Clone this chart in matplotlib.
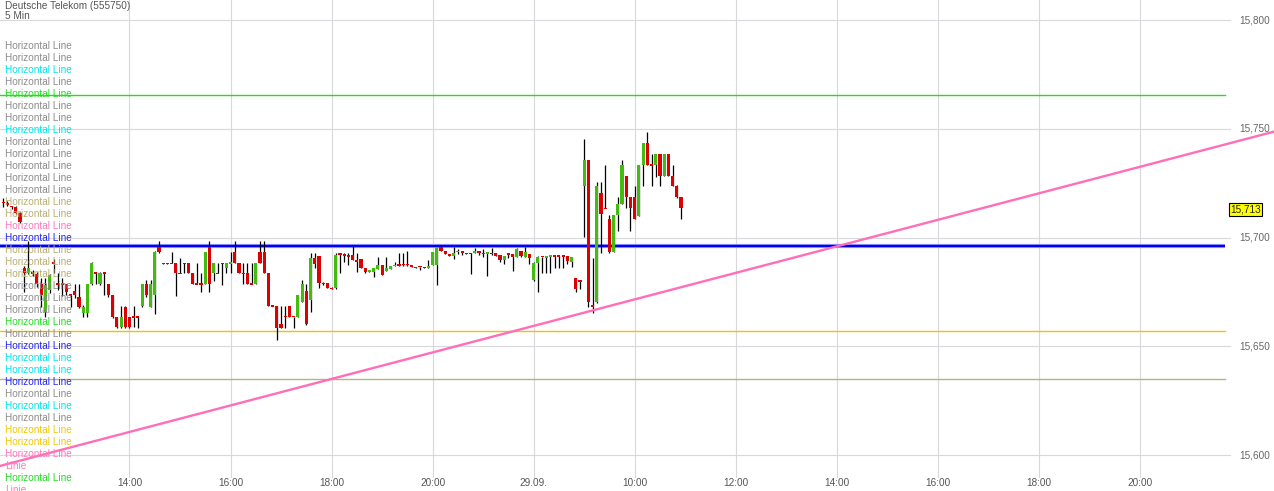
import numpy as np
import matplotlib
matplotlib.use("Agg")
import matplotlib.pyplot as plt
import matplotlib.transforms as mtransforms

# ---------------- data ----------------
title = "Deutsche Telekom (555750)"
subtitle = "5 Min"
first_bar = -30  # bar index of first candle (14:00 on day 1 == index 0)

opens = [15.7160, 15.7160, 15.7142, 15.7142, 15.7113, 15.6860, 15.6837, 15.6838, 15.6832, 15.6786,
         15.6659, 15.6759, 15.6883, 15.6786, 15.6786, 15.6786, 15.6736, 15.6754, 15.6727, 15.6653,
         15.6653, 15.6786, 15.6838, 15.6786, 15.6838, 15.6786, 15.6736, 15.6634, 15.6589, 15.6681,
         15.6634, 15.6634, 15.6634, 15.6685, 15.6786, 15.6681, 15.6736, 15.6958, 15.6881, 15.6881,
         15.6881, 15.6881, 15.6835, 15.6881, 15.6881, 15.6835, 15.6786, 15.6786, 15.6786, 15.6958,
         15.6835, 15.6835, 15.6881, 15.6858, 15.6881, 15.6932, 15.6881, 15.6835, 15.6835, 15.6786,
         15.6786, 15.6932, 15.6932, 15.6835, 15.6685, 15.6685, 15.6602, 15.6636, 15.6685, 15.6636,
         15.6636, 15.6705, 15.6754, 15.6713, 15.6904, 15.6915, 15.6789, 15.6789, 15.6766, 15.6766,
         15.6923, 15.6920, 15.6920, 15.6920, 15.6892, 15.6901, 15.6858, 15.6841, 15.6843, 15.6855,
         15.6874, 15.6847, 15.6855, 15.6870, 15.6874, 15.6877, 15.6877, 15.6870, 15.6866, 15.6866,
         15.6866, 15.6858, 15.6874, 15.6874, 15.6958, 15.6938, 15.6923, 15.6915, 15.6935, 15.6938,
         15.6927, 15.6927, 15.6927, 15.6938, 15.6927, 15.6927, 15.6927, 15.6927, 15.6920, 15.6897,
         15.6923, 15.6923, 15.6912, 15.6938, 15.6912, 15.6923, 15.6805, 15.6884, 15.6912, 15.6909,
         15.6915, 15.6915, 15.6915, 15.6915, 15.6915, 15.6886, 15.6815, 15.6801, 15.7238, 15.7356,
         15.6685, 15.6705, 15.7203, 15.7134, 15.7085, 15.6935, 15.7103, 15.7154, 15.7283, 15.7185,
         15.7185, 15.7100, 15.7333, 15.7433, 15.7333, 15.7333, 15.7384, 15.7283, 15.7384, 15.7283,
         15.7238, 15.7185]

highs = [15.7182, 15.7168, 15.7145, 15.7145, 15.7117, 15.6869, 15.6984, 15.6851, 15.6841, 15.6814,
         15.6814, 15.6832, 15.6901, 15.6837, 15.6814, 15.6786, 15.6736, 15.6786, 15.6786, 15.6690,
         15.6786, 15.6887, 15.6841, 15.6841, 15.6841, 15.6786, 15.6736, 15.6634, 15.6685, 15.6685,
         15.6634, 15.6685, 15.6634, 15.6786, 15.6805, 15.6805, 15.6938, 15.6985, 15.6883, 15.6883,
         15.6935, 15.6883, 15.6906, 15.6883, 15.6881, 15.6835, 15.6883, 15.6837, 15.6932, 15.6985,
         15.6883, 15.6883, 15.6883, 15.6883, 15.6933, 15.6985, 15.6881, 15.6883, 15.6883, 15.6883,
         15.6881, 15.6985, 15.6985, 15.6835, 15.6685, 15.6685, 15.6685, 15.6685, 15.6685, 15.6636,
         15.6736, 15.6805, 15.6786, 15.6929, 15.6929, 15.6915, 15.6795, 15.6789, 15.6772, 15.6929,
         15.6923, 15.6929, 15.6929, 15.6966, 15.6929, 15.6901, 15.6858, 15.6851, 15.6858, 15.6912,
         15.6874, 15.6912, 15.6869, 15.6889, 15.6929, 15.6929, 15.6938, 15.6870, 15.6866, 15.6866,
         15.6866, 15.6897, 15.6935, 15.6958, 15.6966, 15.6938, 15.6923, 15.6958, 15.6947, 15.6938,
         15.6929, 15.6927, 15.6953, 15.6938, 15.6947, 15.6929, 15.6953, 15.6927, 15.6920, 15.6915,
         15.6923, 15.6923, 15.6953, 15.6938, 15.6958, 15.6923, 15.6886, 15.6915, 15.6912, 15.6911,
         15.6917, 15.6915, 15.6915, 15.6915, 15.6915, 15.6912, 15.6815, 15.6805, 15.7453, 15.7356,
         15.6907, 15.7257, 15.7255, 15.7333, 15.7103, 15.7103, 15.7185, 15.7356, 15.7283, 15.7185,
         15.7237, 15.7333, 15.7433, 15.7484, 15.7384, 15.7384, 15.7384, 15.7384, 15.7384, 15.7333,
         15.7241, 15.7186]

lows = [15.7140, 15.7145, 15.7131, 15.7108, 15.7067, 15.6749, 15.6832, 15.6823, 15.6772, 15.6681,
        15.6634, 15.6745, 15.6837, 15.6759, 15.6731, 15.6736, 15.6681, 15.6722, 15.6676, 15.6634,
        15.6634, 15.6782, 15.6786, 15.6782, 15.6736, 15.6727, 15.6630, 15.6584, 15.6584, 15.6584,
        15.6584, 15.6589, 15.6584, 15.6681, 15.6727, 15.6681, 15.6648, 15.6929, 15.6878, 15.6878,
        15.6881, 15.6731, 15.6835, 15.6837, 15.6835, 15.6786, 15.6786, 15.6749, 15.6786, 15.6751,
        15.6800, 15.6835, 15.6782, 15.6837, 15.6837, 15.6881, 15.6835, 15.6786, 15.6786, 15.6786,
        15.6786, 15.6881, 15.6835, 15.6685, 15.6685, 15.6529, 15.6584, 15.6584, 15.6634, 15.6584,
        15.6634, 15.6703, 15.6598, 15.6659, 15.6860, 15.6768, 15.6782, 15.6766, 15.6763, 15.6763,
        15.6837, 15.6887, 15.6874, 15.6897, 15.6841, 15.6858, 15.6837, 15.6841, 15.6818, 15.6855,
        15.6828, 15.6846, 15.6855, 15.6869, 15.6869, 15.6869, 15.6869, 15.6866, 15.6858, 15.6851,
        15.6858, 15.6858, 15.6874, 15.6782, 15.6938, 15.6923, 15.6916, 15.6900, 15.6923, 15.6920,
        15.6923, 15.6832, 15.6927, 15.6920, 15.6912, 15.6824, 15.6920, 15.6915, 15.6889, 15.6877,
        15.6906, 15.6847, 15.6910, 15.6909, 15.6910, 15.6877, 15.6801, 15.6751, 15.6838, 15.6838,
        15.6838, 15.6861, 15.6861, 15.6861, 15.6878, 15.6866, 15.6751, 15.6763, 15.7004, 15.6682,
        15.6652, 15.6699, 15.6930, 15.7134, 15.6930, 15.6935, 15.7031, 15.7154, 15.7134, 15.7031,
        15.7085, 15.7100, 15.7238, 15.7333, 15.7238, 15.7280, 15.7238, 15.7283, 15.7283, 15.7237,
        15.7182, 15.7084]

closes = [15.7160, 15.7149, 15.7142, 15.7111, 15.7071, 15.6837, 15.6860, 15.6838, 15.6786, 15.6736,
          15.6782, 15.6828, 15.6883, 15.6786, 15.6786, 15.6749, 15.6736, 15.6736, 15.6681, 15.6681,
          15.6786, 15.6883, 15.6838, 15.6838, 15.6838, 15.6736, 15.6634, 15.6589, 15.6634, 15.6589,
          15.6589, 15.6634, 15.6634, 15.6786, 15.6736, 15.6786, 15.6935, 15.6932, 15.6881, 15.6881,
          15.6881, 15.6835, 15.6835, 15.6881, 15.6835, 15.6786, 15.6786, 15.6786, 15.6932, 15.6786,
          15.6881, 15.6835, 15.6881, 15.6881, 15.6883, 15.6881, 15.6835, 15.6835, 15.6786, 15.6786,
          15.6881, 15.6881, 15.6835, 15.6685, 15.6685, 15.6585, 15.6585, 15.6636, 15.6636, 15.6636,
          15.6736, 15.6786, 15.6601, 15.6904, 15.6877, 15.6789, 15.6789, 15.6766, 15.6766, 15.6920,
          15.6923, 15.6920, 15.6912, 15.6897, 15.6892, 15.6858, 15.6843, 15.6851, 15.6858, 15.6874,
          15.6828, 15.6858, 15.6869, 15.6872, 15.6874, 15.6877, 15.6877, 15.6870, 15.6858, 15.6866,
          15.6858, 15.6869, 15.6932, 15.6958, 15.6938, 15.6923, 15.6916, 15.6930, 15.6937, 15.6927,
          15.6927, 15.6927, 15.6938, 15.6927, 15.6927, 15.6929, 15.6927, 15.6915, 15.6897, 15.6915,
          15.6923, 15.6912, 15.6947, 15.6915, 15.6932, 15.6907, 15.6881, 15.6912, 15.6912, 15.6911,
          15.6917, 15.6915, 15.6915, 15.6915, 15.6893, 15.6912, 15.6763, 15.6801, 15.7356, 15.6705,
          15.6685, 15.7238, 15.7107, 15.7134, 15.6935, 15.7103, 15.7154, 15.7333, 15.7185, 15.7137,
          15.7085, 15.7333, 15.7433, 15.7333, 15.7333, 15.7384, 15.7283, 15.7384, 15.7283, 15.7238,
          15.7185, 15.7134]

tick_positions = [0, 24, 48, 72, 96, 120, 144, 168, 192, 216, 240]
tick_labels = ["14:00", "16:00", "18:00", "20:00", "29.09.", "10:00",
               "12:00", "14:00", "16:00", "18:00", "20:00"]
price_ticks = [15.60, 15.65, 15.70, 15.75, 15.80]
last_price = 15.713

# horizontal lines drawn on chart (level, colour, width px)
hlines_levels = [15.7655, 15.6961, 15.6570, 15.6350]
hlines_colors = ["#22dd22", "#0000ee", "#f2c200", "#b8b478"]
# trend line anchors (bar index, price)
trend_x = [0, 240]
trend_y = [15.6106, 15.7325]

legend_names = ["Horizontal Line"] * 35 + ["Linie", "Horizontal Line", "Linie"]
legend_colors = ["#8c8c8c", "#8c8c8c", "#00e5ee", "#8c8c8c", "#22dd22", "#8c8c8c", "#8c8c8c",
                 "#00e5ee", "#8c8c8c", "#8c8c8c", "#8c8c8c", "#8c8c8c", "#8c8c8c", "#b8b070",
                 "#b8b070", "#ff77bb", "#2626ee", "#b8b070", "#b8b070", "#b8b070", "#8c8c8c",
                 "#8c8c8c", "#8c8c8c", "#22dd22", "#8c8c8c", "#2626ee", "#00e5ee", "#00e5ee",
                 "#2626ee", "#8c8c8c", "#00e5ee", "#8c8c8c", "#f2c800", "#f2c800", "#ff77bb",
                 "#ff77bb", "#22dd22", "#ff77bb"]

# ---------------- figure ----------------
W, H = 1274, 491
fig = plt.figure(figsize=(W / 100, H / 100), dpi=100)
ax = fig.add_axes([0, 0, 1, 1])
ax.set_axis_off()

px_per_bar = 4.21
x0_px = 129.5
px_per_unit = 2175.0
y_top_price = 15.8092
ax.set_xlim(-x0_px / px_per_bar, (W - x0_px) / px_per_bar)
ax.set_ylim(y_top_price - H / px_per_unit, y_top_price)

xl = ax.get_xlim()
grid_right = (1230 - x0_px) / px_per_bar
line_right = (1225 - x0_px) / px_per_bar
grid_bottom = y_top_price - 477 / px_per_unit

FONT = ["Liberation Sans", "DejaVu Sans"]
plt.rcParams["font.family"] = FONT

# grid
for p in price_ticks:
    ax.plot([xl[0], grid_right], [p, p], color="#d9d9dd", lw=0.8, zorder=0)
for t in tick_positions:
    ax.plot([t, t], [grid_bottom, y_top_price], color="#d9d9dd", lw=0.8, zorder=0)

# legend texts
for k, (name, col) in enumerate(zip(legend_names, legend_colors)):
    fig.text(5 / W, 1 - (46 + 12 * k) / H, name, color=col, fontsize=7.2,
             va="center", ha="left", zorder=1)

fig.text(5 / W, 1 - 6 / H, title, color="#555555", fontsize=7.2, va="center", ha="left")
fig.text(5 / W, 1 - 16 / H, subtitle, color="#555555", fontsize=7.2, va="center", ha="left")

# horizontal lines
for lvl, col in zip(hlines_levels, hlines_colors):
    if col == "#0000ee":
        ax.plot([xl[0], line_right], [lvl, lvl], color="#8f8fff", lw=3.0, zorder=2,
                solid_capstyle="butt")
        ax.plot([xl[0], line_right], [lvl, lvl], color=col, lw=1.5, zorder=2,
                solid_capstyle="butt")
    else:
        ax.plot([xl[0], line_right], [lvl, lvl], color=col, lw=1.0, zorder=2)

# candles
o = np.array(opens); h = np.array(highs); l = np.array(lows); c = np.array(closes)
idx = first_bar + np.arange(len(o))
up = c > o
cols = np.where(up, "#44bb11", "#dd0000")
ax.vlines(idx, l, h, color="black", lw=0.9, zorder=3)
bottom = np.minimum(o, c)
height = np.maximum(np.abs(c - o), 0.0007)
bottom = np.where(np.abs(c - o) < 0.0007, (o + c) / 2 - 0.00035, bottom)
ax.bar(idx, height, bottom=bottom, width=0.75, color=cols, edgecolor="none",
       linewidth=0, zorder=4)

# trend line
slope = (trend_y[1] - trend_y[0]) / (trend_x[1] - trend_x[0])
tx = np.array([xl[0], xl[1]])
ty = trend_y[0] + slope * (tx - trend_x[0])
ax.plot(tx, ty, color="#ff6eb8", lw=1.7, zorder=5)

# price axis labels
trans = mtransforms.blended_transform_factory(ax.transAxes, ax.transData)
for p in price_ticks:
    ax.text(1239 / W, p, f"{p:.3f}".replace(".", ","), transform=trans, color="#666666",
            fontsize=7.2, va="center", ha="left")
ax.text(1245.5 / W, last_price, f"{last_price:.3f}".replace(".", ","), transform=trans,
        color="#222222", fontsize=7.2, va="center", ha="center", zorder=6,
        bbox=dict(boxstyle="square,pad=0.15", fc="#ffff00", ec="black", lw=0.8))

# time axis labels
for t, lab in zip(tick_positions, tick_labels):
    ax.text(t, y_top_price - 483 / px_per_unit, lab, color="#555555", fontsize=7.2,
            ha="center", va="center")

fig.savefig("out.png", dpi=100, facecolor="white")
